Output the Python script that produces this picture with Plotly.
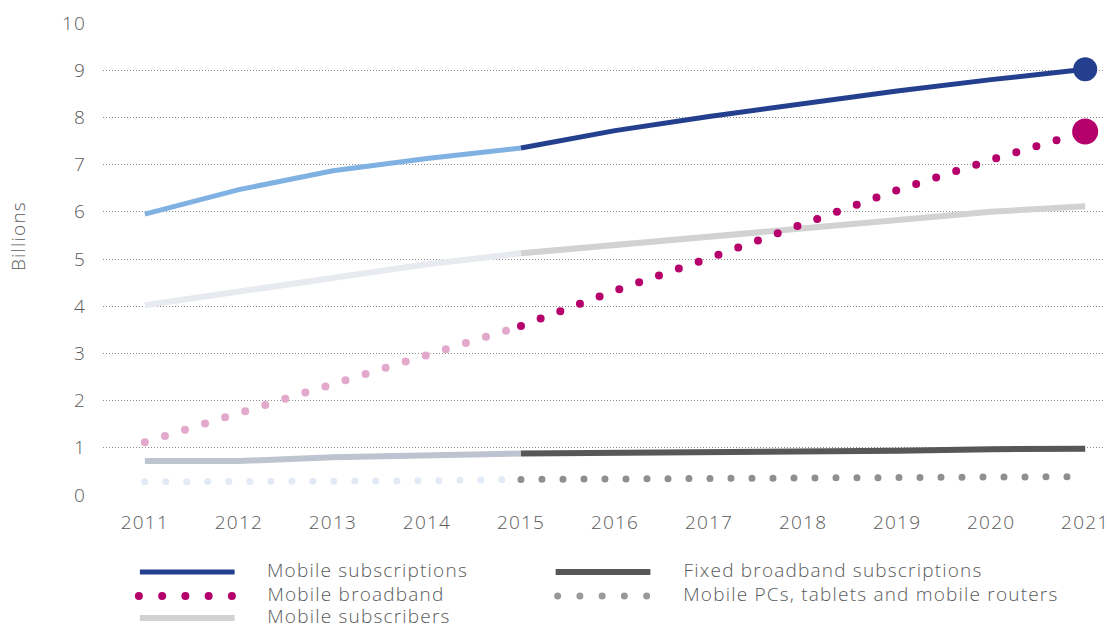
import plotly.graph_objects as go

years = [2011, 2012, 2013, 2014, 2015, 2016, 2017, 2018, 2019, 2020, 2021]
mobile_subscriptions = [5.95, 6.47, 6.87, 7.13, 7.35, 7.72, 8.02, 8.3, 8.56, 8.8, 9.02]
mobile_broadband = [1.12, 1.74, 2.36, 2.96, 3.58, 4.33, 5.02, 5.76, 6.46, 7.1, 7.7]
mobile_subscribers = [4.02, 4.32, 4.62, 4.89, 5.12, 5.29, 5.48, 5.66, 5.83, 6.0, 6.12]
fixed_broadband = [0.72, 0.72, 0.8, 0.84, 0.88, 0.89, 0.9, 0.93, 0.94, 0.97, 0.98]
mobile_pcs = [0.28, 0.28, 0.28, 0.3, 0.33, 0.34, 0.34, 0.34, 0.35, 0.38, 0.39]
legend_names = ["Mobile subscriptions", "Mobile broadband", "Mobile subscribers",
                "Fixed broadband subscriptions", "Mobile PCs, tablets and mobile routers"]
y_title = "Billions"

SPLIT = 4  # index of 2015, where the forecast colour starts

DOTS = "0px,21px"
series = [
    # data, light colour, dark colour, width, dash
    (mobile_subscribers, "#e7eaef", "#d2d2d2", 6, "solid"),
    (fixed_broadband, "#bdc4cf", "#575757", 6, "solid"),
    (mobile_pcs, "#e2eaf5", "#8f8f8f", 7, DOTS),
    (mobile_subscriptions, "#80b1e3", "#243f8d", 5, "solid"),
    (mobile_broadband, "#e2a9cc", "#b5006c", 8, DOTS),
]

fig = go.Figure()
for data, light, dark, w, dash in series:
    fig.add_trace(go.Scatter(x=years[:SPLIT + 1], y=data[:SPLIT + 1], mode="lines",
                             line=dict(color=light, width=w, dash=dash),
                             showlegend=False, hoverinfo="skip", cliponaxis=False))
    fig.add_trace(go.Scatter(x=years[SPLIT:], y=data[SPLIT:], mode="lines",
                             line=dict(color=dark, width=w, dash=dash),
                             showlegend=False, hoverinfo="skip", cliponaxis=False))

# end markers
fig.add_trace(go.Scatter(x=[years[-1]], y=[mobile_subscriptions[-1]], mode="markers",
                         marker=dict(color="#243f8d", size=24), showlegend=False,
                         hoverinfo="skip", cliponaxis=False))
fig.add_trace(go.Scatter(x=[years[-1]], y=[mobile_broadband[-1]], mode="markers",
                         marker=dict(color="#b5006c", size=26), showlegend=False,
                         hoverinfo="skip", cliponaxis=False))

W, H = 1107, 628
L, R, T, B = 103, 0, 23, 133
pw, ph = W - L - R, H - T - B


def px(x):
    return (x - L) / pw


def py(y):
    return (H - B - y) / ph


font_family = "Open Sans"
txt_color = "#5a5a5a"
FS = 19
SPACING = 1.2  # css letter-spacing (px), applied after plotly measures text

# custom legend: samples and labels
legend_items = [
    (legend_names[0], "#243f8d", 5, "solid", 140, 235, 572),
    (legend_names[1], "#b5006c", 8, "0px,23.25px", 139, 232.5, 596),
    (legend_names[2], "#d2d2d2", 6, "solid", 140, 235, 618),
    (legend_names[3], "#575757", 6, "solid", 557, 652, 572),
    (legend_names[4], "#999999", 7, "0px,22.25px", 559, 648.5, 596),
]
text_x = [268, 268, 268, 685, 685]
shapes = []
annotations = []
for (name, col, w, dash, x0, x1, yy), tx in zip(legend_items, text_x):
    shapes.append(dict(type="line", xref="paper", yref="paper",
                       x0=px(x0), x1=px(x1), y0=py(yy), y1=py(yy),
                       line=dict(color=col, width=w, dash=dash)))
    # text is centred in its box, so compensate for the extra letter spacing
    annotations.append(dict(text=name, xref="paper", yref="paper",
                            x=px(tx - 1 + len(name) * SPACING / 2), y=py(yy - 2),
                            xanchor="left", yanchor="middle",
                            showarrow=False, borderpad=0,
                            font=dict(size=FS, color=txt_color, family=font_family, weight=300)))

annotations.append(dict(text=y_title, xref="paper", yref="paper", x=px(18), y=py(236),
                        xanchor="center", yanchor="middle", textangle=-90, showarrow=False,
                        font=dict(size=FS, color=txt_color, family=font_family, weight=300)))

fig.update_layout(
    width=W, height=H,
    margin=dict(l=L, r=R, t=T, b=B, pad=0),
    plot_bgcolor="white", paper_bgcolor="white",
    font=dict(family=font_family, size=FS, color=txt_color, weight=300),
    showlegend=False,
    shapes=shapes,
    annotations=annotations,
    xaxis=dict(range=[2010.555, 2021.2], tickmode="array", tickvals=years,
               ticktext=[str(y) for y in years], showgrid=False, zeroline=False,
               showline=False, ticks="", ticklabelstandoff=14, ticklabeloverflow="allow",
               tickfont=dict(size=FS, color=txt_color, weight=300)),
    yaxis=dict(range=[0, 10], tickmode="linear", tick0=0, dtick=1,
               showgrid=True, gridcolor="#8c8c8c", gridwidth=1, griddash="1px,2px",
               zeroline=False, showline=False, ticks="", ticklabelstandoff=16,
               tickfont=dict(size=FS, color=txt_color, weight=300)),
)

post = """
document.body.style.margin = '0';
document.body.style.padding = '0';
var st = document.createElement('style');
st.innerHTML = 'path[style*="stroke-dasharray: 0px"] { stroke-linecap: round !important; }' +
  ' svg text { letter-spacing: %spx; }';
document.head.appendChild(st);
""" % SPACING
fig.write_html("out.html", post_script=post, config={"displayModeBar": False})
